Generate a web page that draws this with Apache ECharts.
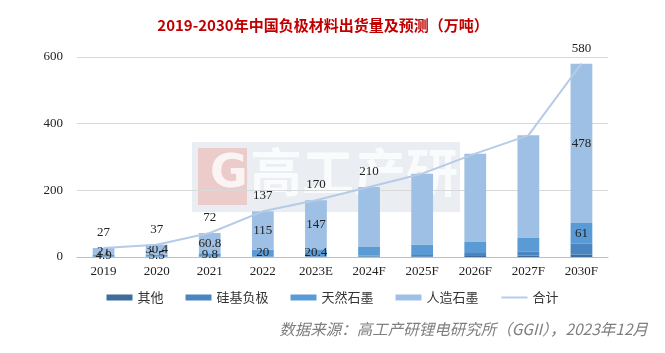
<!DOCTYPE html>
<html>
<head>
<meta charset="utf-8">
<script src="https://cdn.jsdelivr.net/npm/echarts@6/dist/echarts.min.js"></script>
<style>
  html, body { margin: 0; padding: 0; background: #fff; }
  #main { width: 665px; height: 353px; }
</style>
</head>
<body>
<div id="main"></div>
<script>
// 年份
var years = ['2019', '2020', '2021', '2022', '2023E', '2024F', '2025F', '2026F', '2027F', '2030F'];
// 各类负极出货量（万吨）
var qita = [0.6, 0.6, 0.7, 1, 1.2, 1.5, 2, 3, 4, 7];
var guiji = [0.5, 0.5, 0.7, 1, 1.4, 2.5, 4, 9, 13, 34];
var tianran = [4.9, 5.5, 9.8, 20, 20.4, 26, 31, 33, 40, 61];
var renzao = [21, 30.4, 60.8, 115, 147, 180, 213, 265, 308, 478];
var heji = [27, 37, 72, 137, 170, 210, 250, 310, 365, 580];
var yTicks = [0, 200, 400, 600];
// 显示数值的年份
var segLabelYears = ['2019', '2020', '2021', '2022', '2023E', '2030F'];
var totalLabelYears = ['2019', '2020', '2021', '2022', '2023E', '2024F', '2030F'];

function withLabels(arr, showYears) {
  return arr.map(function (v, i) {
    return { value: v, label: { show: showYears.indexOf(years[i]) >= 0 } };
  });
}

var serifFont = '"Liberation Serif", "DejaVu Serif", serif';
var cnFont = '"Noto Sans CJK SC", sans-serif';

var chart = echarts.init(document.getElementById('main'));
chart.setOption({
  animation: false,
  color: ['#3e6d9a', '#4a85bf', '#5b9bd5', '#9dc0e4', '#b6cbe8'],
  title: {
    text: '2019-2030年中国负极材料出货量及预测（万吨）',
    left: 318,
    textAlign: 'center',
    top: 13,
    textStyle: { color: '#c00000', fontSize: 15, fontWeight: 'bold', fontFamily: cnFont }
  },
  graphic: [
    {
      type: 'group', left: 192, top: 142, z: 0, silent: true,
      children: [
        { type: 'rect', shape: { x: 0, y: 0, width: 268, height: 70 }, style: { fill: 'rgba(190,198,212,0.32)' } },
        { type: 'rect', shape: { x: 6, y: 6, width: 49, height: 57 }, style: { fill: 'rgba(240,170,165,0.5)' } },
        { type: 'text', style: { x: 18, y: 10, text: 'G', fill: 'rgba(255,255,255,0.8)', font: 'bold 46px "DejaVu Sans"' } },
        { type: 'text', style: { x: 58, y: 4, text: '高工产研', fill: 'rgba(255,255,255,0.75)', font: 'bold 52px "Noto Sans CJK SC"' } }
      ]
    },
    {
      type: 'text', right: 17, top: 321,
      style: { text: '数据来源：高工产研锂电研究所（GGII），2023年12月', fill: '#7f7f7f', font: 'italic 15.5px "Noto Sans CJK SC"' }
    }
  ],
  legend: {
    bottom: 44,
    left: 'center',
    itemWidth: 26,
    itemHeight: 6,
    itemGap: 22,
    textStyle: { color: '#333', fontSize: 13, fontFamily: cnFont },
    data: [
      { name: '其他', icon: 'rect' },
      { name: '硅基负极', icon: 'rect' },
      { name: '天然石墨', icon: 'rect' },
      { name: '人造石墨', icon: 'rect' },
      { name: '合计' }
    ]
  },
  grid: { left: 77, right: 57, top: 57, bottom: 96 },
  xAxis: {
    type: 'category',
    data: years,
    axisLine: { lineStyle: { color: '#bfbfbf' } },
    axisTick: { show: false },
    axisLabel: { color: '#222', fontSize: 13, fontFamily: serifFont, margin: 8 }
  },
  yAxis: {
    type: 'value',
    min: yTicks[0],
    max: yTicks[yTicks.length - 1],
    interval: 200,
    axisLine: { show: false },
    axisTick: { show: false },
    splitLine: { lineStyle: { color: '#d9d9d9' } },
    axisLabel: { color: '#222', fontSize: 13, fontFamily: serifFont, margin: 14 }
  },
  series: [
    { name: '其他', type: 'bar', stack: 'a', barWidth: '41%', data: qita },
    { name: '硅基负极', type: 'bar', stack: 'a', data: guiji },
    {
      name: '天然石墨', type: 'bar', stack: 'a',
      label: { position: 'inside', color: '#222', fontSize: 13, fontFamily: serifFont },
      data: withLabels(tianran, segLabelYears)
    },
    {
      name: '人造石墨', type: 'bar', stack: 'a',
      label: { position: 'inside', color: '#222', fontSize: 13, fontFamily: serifFont },
      data: withLabels(renzao, segLabelYears)
    },
    {
      name: '合计', type: 'line', symbol: 'circle', symbolSize: 2, z: 5,
      itemStyle: { color: 'rgba(255,255,255,0)' },
      lineStyle: { width: 2, color: '#b6cbe8' },
      label: { position: 'top', distance: 8, color: '#222', fontSize: 13, fontFamily: serifFont },
      data: withLabels(heji, totalLabelYears)
    }
  ]
});
</script>
</body>
</html>
